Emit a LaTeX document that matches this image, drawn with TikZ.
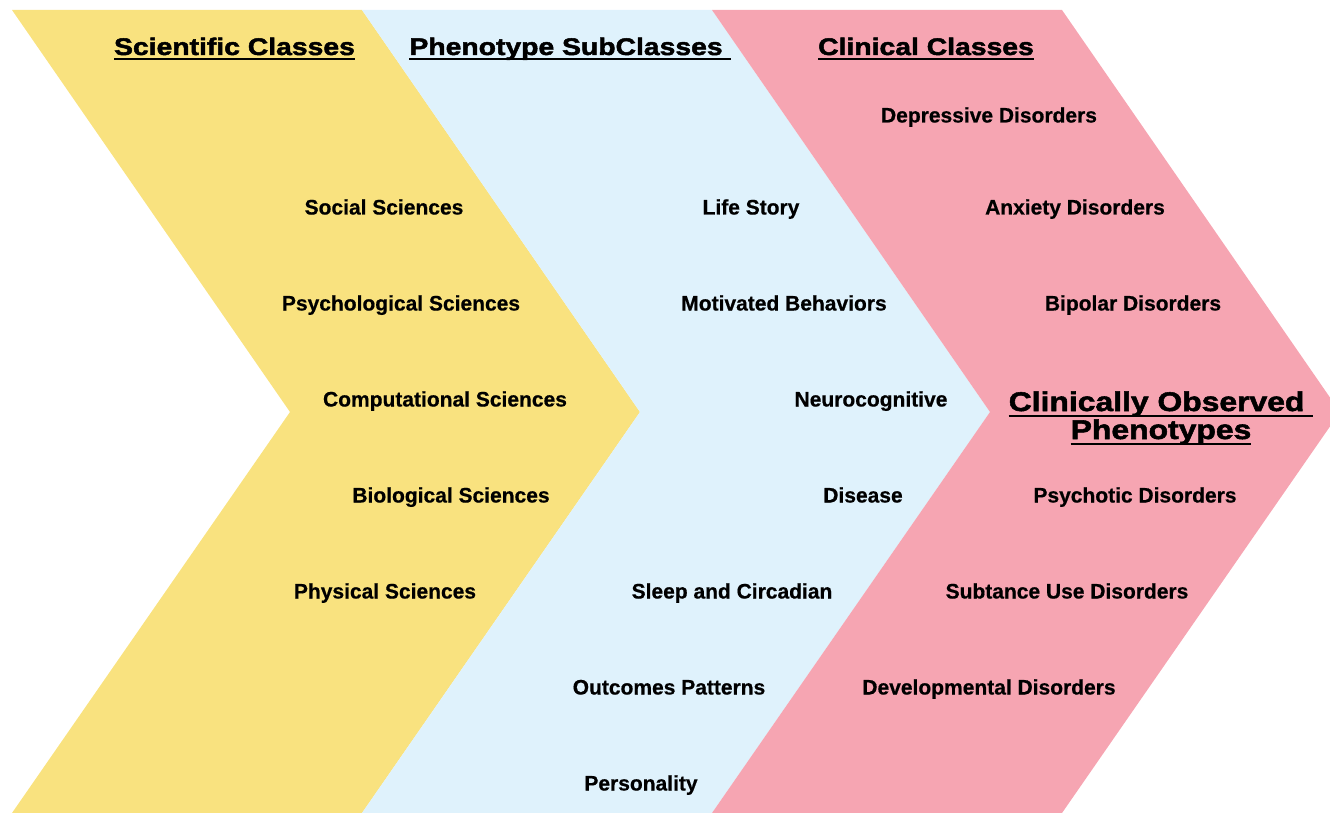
\documentclass[tikz,border=0pt]{standalone}
\usepackage{fontspec}
\setmainfont{Liberation Sans}[BoldFeatures={FakeBold=0.6}]
\newfontfamily\headfont{Liberation Sans}[BoldFeatures={FakeBold=2,FakeStretch=1.18}]
\definecolor{cyel}{HTML}{F9E27F}
\definecolor{cblu}{HTML}{DFF2FC}
\definecolor{cpnk}{HTML}{F6A5B2}
\newcommand\hul[1]{\setbox0=\hbox{#1}\rlap{\rule[-5.5pt]{\wd0}{2pt}}\box0}
\begin{document}
\begin{tikzpicture}[x=1pt,y=-1pt,
  lab/.style={anchor=base,inner sep=0pt,font=\fontsize{21}{24}\selectfont\bfseries},
  head/.style={anchor=base,inner sep=0pt,font=\fontsize{24}{26}\selectfont\headfont\bfseries},
  bighead/.style={anchor=base,inner sep=0pt,align=center,font=\fontsize{27}{28}\selectfont\headfont\bfseries}]
\useasboundingbox (0,0) rectangle (1330,813);
\clip (0,0) rectangle (1330,813);
\fill[cyel] (12,10) -- (362,10) -- (640,412) -- (362,813) -- (12,813) -- (290,412) -- cycle;
\fill[cblu] (362,10) -- (712,10) -- (990,412) -- (712,813) -- (362,813) -- (640,412) -- cycle;
\fill[cpnk] (712,10) -- (1062,10) -- (1340,412) -- (1062,813) -- (712,813) -- (990,412) -- cycle;
% headings
\node[head] (h1) at (234.5,55) {\hul{Scientific Classes}};
\node[head] (h2) at (570,55) {\hul{Phenotype SubClasses\ }};
\node[head] (h3) at (926,55) {\hul{Clinical Classes}};
\node[bighead] (h4) at (1161,439) {\hul{Clinically Observed\ }\\\hul{Phenotypes}};
% scientific
\node[lab] (s1) at (384,214.5) {Social Sciences};
\node[lab] (s2) at (401,310.5) {Psychological Sciences};
\node[lab] (s3) at (445,406.5) {Computational Sciences};
\node[lab] (s4) at (451,502.5) {Biological Sciences};
\node[lab] (s5) at (385,598.5) {Physical Sciences};
% phenotype subclasses
\node[lab] (p1) at (751,214.5) {Life Story};
\node[lab] (p2) at (784,310.5) {Motivated Behaviors};
\node[lab] (p3) at (871,406.5) {Neurocognitive};
\node[lab] (p4) at (863,502.5) {Disease};
\node[lab] (p5) at (732,598.5) {Sleep and Circadian};
\node[lab] (p6) at (669,694.5) {Outcomes Patterns};
\node[lab] (p7) at (641,790.5) {Personality};
% clinical
\node[lab] (c1) at (989,122.5) {Depressive Disorders};
\node[lab] (c2) at (1075,214.5) {Anxiety Disorders};
\node[lab] (c3) at (1133,310.5) {Bipolar Disorders};
\node[lab] (c4) at (1135,502.5) {Psychotic Disorders};
\node[lab] (c5) at (1067,598.5) {Subtance Use Disorders};
\node[lab] (c6) at (989,694.5) {Developmental Disorders};
\end{tikzpicture}
\end{document}
